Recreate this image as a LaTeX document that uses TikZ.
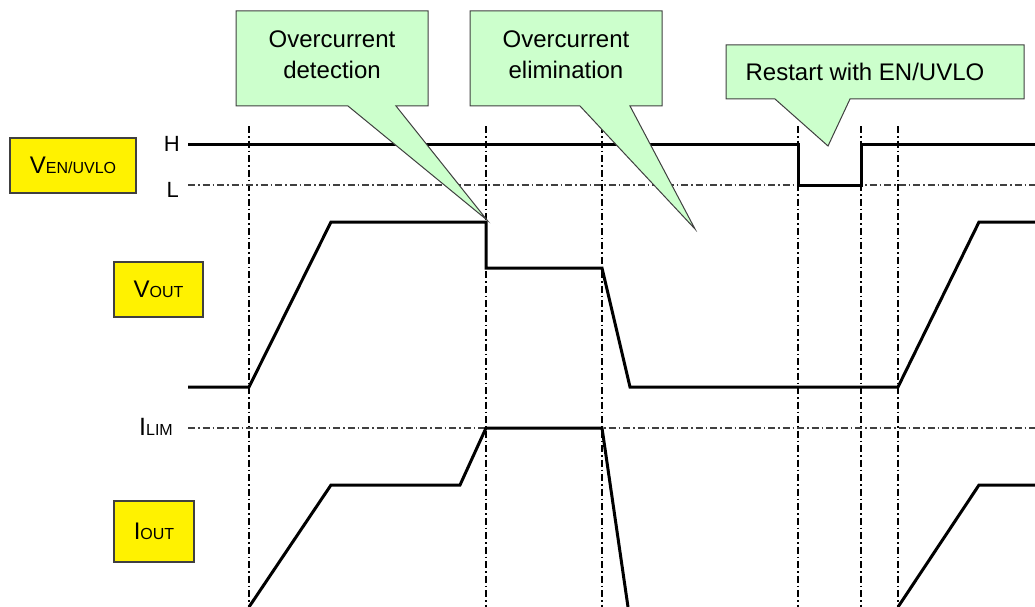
\documentclass[tikz,border=0pt]{standalone}
\usepackage{fontspec}
\setmainfont{Liberation Sans}
\usetikzlibrary{positioning}
\definecolor{notegreen}{HTML}{CCFFCC}
\definecolor{edgegray}{HTML}{404040}
\newcommand{\subsc}[1]{{\fontsize{16}{16}\selectfont #1}}

\begin{document}
\begin{tikzpicture}[x=1pt, y=-1pt,
		sig/.style = {line width=3pt},
		grid/.style = {line width=1.2pt, dash pattern=on 7pt off 3pt on 1.5pt off 3pt},
		tag/.style = {draw=edgegray, fill=yellow, line width=1.2pt, inner sep=0pt, font=\fontsize{24}{28}\selectfont},
		note/.style = {draw=edgegray, fill=notegreen, line width=1pt},
		notetext/.style = {align=center, inner sep=0pt, font=\fontsize{24}{31}\selectfont},
		lvl/.style = {anchor=east, inner sep=0pt, font=\fontsize{22}{26}\selectfont}]
		\useasboundingbox (0,0) rectangle (1035,607);
		\foreach \x in {249,486,602,798,861,898}
			\draw[grid] (\x,126) -- (\x,607);
		\draw[grid, edgegray] (188,185) -- (1035,185);
		\draw[grid, edgegray] (188,428) -- (1035,428);
		\node[tag, minimum width=126pt, minimum height=55pt] (ven) at (73,165.5) {V\subsc{EN/UVLO}};
		\node[tag, minimum width=89pt, minimum height=55pt] (vout) at (158.5,289.5) {V\subsc{OUT}};
		\node[tag, minimum width=80pt, minimum height=61pt] (iout) at (154,531.5) {I\subsc{OUT}};
		\node[lvl] (hi) at (180,144) {H};
		\node[lvl] (lo) at (179,190) {L};
		\node[lvl, font=\fontsize{25}{28}\selectfont] (ilim) at (173,427) {I\subsc{LIM}};
		\draw[sig] (188,144) -- (798,144) -- (798,185) -- (861,185) -- (861,144) -- (1035,144);
		\draw[sig] (188,387) -- (249,387) -- (331,222) -- (486,222) -- (486,268) -- (602,268) -- (630,387) -- (898,387) -- (979,222) -- (1035,222);
		\draw[sig] (249,607) -- (331,485) -- (460,485) -- (486,428) -- (602,428) -- (628,607);
		\draw[sig] (898,607) -- (979,485) -- (1035,485);
		\draw[note] (236,11) -- (428,11) -- (428,106) -- (396,106) -- (487,220) -- (348,106) -- (236,106) -- cycle;
		\draw[note] (470,11) -- (662,11) -- (662,106) -- (630,106) -- (695,229) -- (580,106) -- (470,106) -- cycle;
		\draw[note] (726,45) -- (1024,45) -- (1024,99) -- (850,99) -- (828,146) -- (775,99) -- (726,99) -- cycle;
		\node[notetext] (detect) at (332,55) {Overcurrent\\detection};
		\node[notetext] (elim) at (566,55) {Overcurrent\\elimination};
		\node[notetext] (restart) at (865,72) {Restart with EN/UVLO};
	\end{tikzpicture}
\end{document}
